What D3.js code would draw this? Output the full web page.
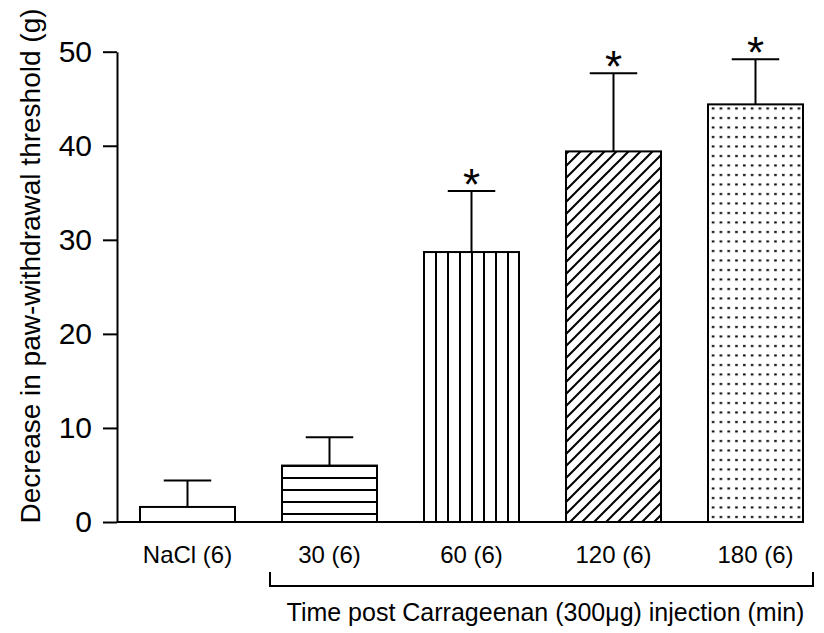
<!DOCTYPE html>
<html>
<head>
<meta charset="utf-8">
<script src="https://cdn.jsdelivr.net/npm/d3@7"></script>
<style>
  body { margin: 0; background: #fff; }
  text { font-family: "Liberation Sans", Arial, sans-serif; fill: #000; }
</style>
</head>
<body>
<script>
// data
const categories = ["NaCl (6)", "30 (6)", "60 (6)", "120 (6)", "180 (6)"];
const means = [1.6, 6.0, 28.7, 39.4, 44.4];
const sems = [2.8, 3.0, 6.5, 8.3, 4.8];
const significant = [false, false, true, true, true];
const fills = ["none", "url(#hlines)", "url(#vlines)", "url(#diag)", "url(#dots)"];
const yTicks = [0, 10, 20, 30, 40, 50];

const width = 824, height = 633;
const plotLeft = 117, plotBottom = 522, plotTop = 51.7;

const svg = d3.select("body").append("svg")
  .attr("width", width)
  .attr("height", height);

// hatch patterns
const defs = svg.append("defs");
const hl = defs.append("pattern").attr("id", "hlines")
  .attr("patternUnits", "userSpaceOnUse").attr("width", 12).attr("height", 12);
hl.append("rect").attr("width", 12).attr("height", 12).attr("fill", "#fff");
hl.append("line").attr("x1", 0).attr("x2", 12).attr("y1", 10).attr("y2", 10)
  .attr("stroke", "#000").attr("stroke-width", 2);

const vl = defs.append("pattern").attr("id", "vlines")
  .attr("patternUnits", "userSpaceOnUse").attr("width", 12).attr("height", 12);
vl.append("rect").attr("width", 12).attr("height", 12).attr("fill", "#fff");
vl.append("line").attr("x1", 4).attr("x2", 4).attr("y1", 0).attr("y2", 12)
  .attr("stroke", "#000").attr("stroke-width", 2);

const dg = defs.append("pattern").attr("id", "diag")
  .attr("patternUnits", "userSpaceOnUse").attr("width", 12).attr("height", 12);
dg.append("rect").attr("width", 12).attr("height", 12).attr("fill", "#fff");
dg.append("path").attr("d", "M-3,3L3,-3M0,12L12,0M9,15L15,9")
  .attr("stroke", "#000").attr("stroke-width", 2);

const dt = defs.append("pattern").attr("id", "dots")
  .attr("patternUnits", "userSpaceOnUse").attr("width", 7.8).attr("height", 9.5);
dt.append("rect").attr("width", 7.8).attr("height", 9.5).attr("fill", "#fff");
dt.append("rect").attr("x", 2).attr("y", 3).attr("width", 2.6).attr("height", 2).attr("fill", "#000");

const x = d3.scaleBand()
  .domain(categories)
  .range([plotLeft, 826])
  .paddingInner(0.331)
  .paddingOuter(0.162)
  .align(0.5);

const y = d3.scaleLinear()
  .domain([0, 50])
  .range([plotBottom, plotTop]);

const rows = categories.map((c, i) => ({ cat: c, mean: means[i], sem: sems[i], sig: significant[i], fill: fills[i] }));

// bars
svg.append("g").selectAll("rect")
  .data(rows)
  .enter().append("rect")
  .attr("x", d => x(d.cat))
  .attr("y", d => y(d.mean))
  .attr("width", x.bandwidth())
  .attr("height", d => y(0) - y(d.mean))
  .attr("fill", d => d.fill === "none" ? "#fff" : d.fill)
  .attr("stroke", "#000")
  .attr("stroke-width", 2);

// error bars (upper only)
const err = svg.append("g").attr("stroke", "#000").attr("stroke-width", 2);
err.selectAll(".stem")
  .data(rows)
  .enter().append("line")
  .attr("x1", d => x(d.cat) + x.bandwidth() / 2)
  .attr("x2", d => x(d.cat) + x.bandwidth() / 2)
  .attr("y1", d => y(d.mean))
  .attr("y2", d => y(d.mean + d.sem));
err.selectAll(".cap")
  .data(rows)
  .enter().append("line")
  .attr("x1", d => x(d.cat) + x.bandwidth() / 4)
  .attr("x2", d => x(d.cat) + x.bandwidth() * 3 / 4)
  .attr("y1", d => y(d.mean + d.sem))
  .attr("y2", d => y(d.mean + d.sem));

// stars
svg.append("g").selectAll("text")
  .data(rows.filter(d => d.sig))
  .enter().append("text")
  .attr("x", d => x(d.cat) + x.bandwidth() / 2)
  .attr("y", d => y(d.mean + d.sem) + 9)
  .attr("text-anchor", "middle")
  .style("font-size", "44px")
  .text("*");

// y axis
const yAxis = svg.append("g")
  .attr("transform", `translate(${plotLeft},0)`)
  .call(d3.axisLeft(y).tickValues(yTicks).tickSize(14).tickSizeOuter(0).tickPadding(11));
yAxis.select(".domain").attr("stroke-width", 2);
yAxis.selectAll(".tick line").attr("stroke-width", 2);
yAxis.selectAll(".tick text").style("font-size", "30px").style("font-family", "Liberation Sans, Arial, sans-serif");

// x baseline
svg.append("line")
  .attr("x1", plotLeft).attr("x2", x(categories[4]) + x.bandwidth())
  .attr("y1", plotBottom).attr("y2", plotBottom)
  .attr("stroke", "#000").attr("stroke-width", 2);

// category labels
svg.append("g").selectAll("text")
  .data(categories)
  .enter().append("text")
  .attr("x", d => x(d) + x.bandwidth() / 2)
  .attr("y", 563)
  .attr("text-anchor", "middle")
  .style("font-size", "24px")
  .text(d => d);

// bracket under the carrageenan groups
const bx0 = x(categories[1]) - 12, bx1 = x(categories[4]) + x.bandwidth() + 10;
svg.append("path")
  .attr("d", `M${bx0},572V586H${bx1}V572`)
  .attr("fill", "none").attr("stroke", "#000").attr("stroke-width", 2);

svg.append("text")
  .attr("x", (bx0 + bx1) / 2 + 4)
  .attr("y", 621)
  .attr("text-anchor", "middle")
  .style("font-size", "25px")
  .text("Time post Carrageenan (300μg) injection (min)");

// y title
svg.append("text")
  .attr("transform", "translate(40,266) rotate(-90)")
  .attr("text-anchor", "middle")
  .style("font-size", "28px")
  .text("Decrease in paw-withdrawal threshold (g)");
</script>
</body>
</html>
